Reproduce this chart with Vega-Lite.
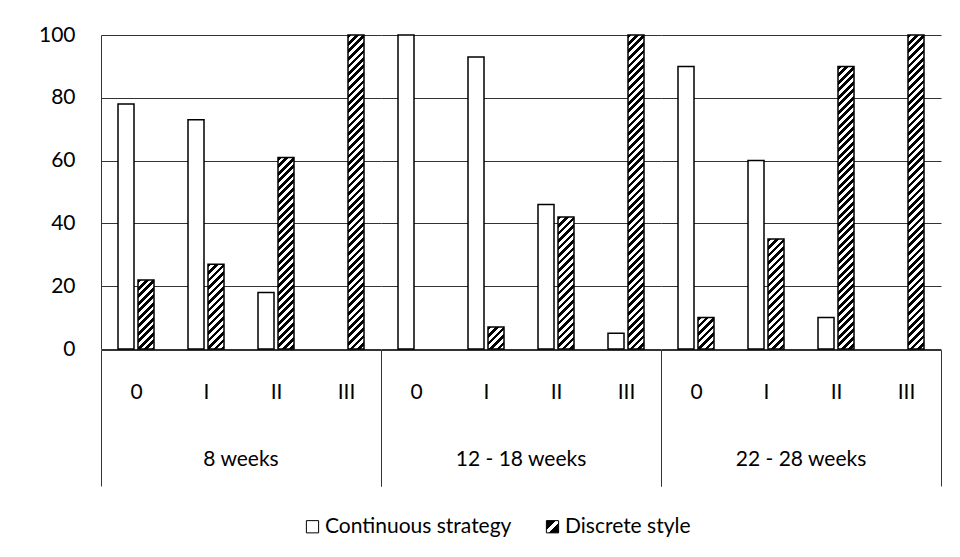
{
  "$schema": "https://vega.github.io/schema/vega-lite/v6.json",
  "background": "white",
  "autosize": {"type": "pad"},
  "padding": {"left": 38, "top": 24, "right": 0, "bottom": 0},
  "params": [
    {"name": "lg", "value": {"gradient": "linear", "x1": 0, "y1": 0, "x2": 1, "y2": 1, "stops": [
      {"offset": 0, "color": "#000"}, {"offset": 0.4, "color": "#000"}, {"offset": 0.4, "color": "#fff"},
      {"offset": 0.6, "color": "#fff"}, {"offset": 0.6, "color": "#000"}, {"offset": 1, "color": "#000"}]}},
    {"name": "hs", "value": [{"offset":0,"color":"#000"},
{"offset":0.01136,"color":"#000"},{"offset":0.01136,"color":"#fff"},
{"offset":0.02273,"color":"#fff"},{"offset":0.02273,"color":"#000"},
{"offset":0.03409,"color":"#000"},{"offset":0.03409,"color":"#fff"},
{"offset":0.04545,"color":"#fff"},{"offset":0.04545,"color":"#000"},
{"offset":0.05682,"color":"#000"},{"offset":0.05682,"color":"#fff"},
{"offset":0.06818,"color":"#fff"},{"offset":0.06818,"color":"#000"},
{"offset":0.07955,"color":"#000"},{"offset":0.07955,"color":"#fff"},
{"offset":0.09091,"color":"#fff"},{"offset":0.09091,"color":"#000"},
{"offset":0.10227,"color":"#000"},{"offset":0.10227,"color":"#fff"},
{"offset":0.11364,"color":"#fff"},{"offset":0.11364,"color":"#000"},
{"offset":0.125,"color":"#000"},{"offset":0.125,"color":"#fff"},
{"offset":0.13636,"color":"#fff"},{"offset":0.13636,"color":"#000"},
{"offset":0.14773,"color":"#000"},{"offset":0.14773,"color":"#fff"},
{"offset":0.15909,"color":"#fff"},{"offset":0.15909,"color":"#000"},
{"offset":0.17045,"color":"#000"},{"offset":0.17045,"color":"#fff"},
{"offset":0.18182,"color":"#fff"},{"offset":0.18182,"color":"#000"},
{"offset":0.19318,"color":"#000"},{"offset":0.19318,"color":"#fff"},
{"offset":0.20455,"color":"#fff"},{"offset":0.20455,"color":"#000"},
{"offset":0.21591,"color":"#000"},{"offset":0.21591,"color":"#fff"},
{"offset":0.22727,"color":"#fff"},{"offset":0.22727,"color":"#000"},
{"offset":0.23864,"color":"#000"},{"offset":0.23864,"color":"#fff"},
{"offset":0.25,"color":"#fff"},{"offset":0.25,"color":"#000"},
{"offset":0.26136,"color":"#000"},{"offset":0.26136,"color":"#fff"},
{"offset":0.27273,"color":"#fff"},{"offset":0.27273,"color":"#000"},
{"offset":0.28409,"color":"#000"},{"offset":0.28409,"color":"#fff"},
{"offset":0.29545,"color":"#fff"},{"offset":0.29545,"color":"#000"},
{"offset":0.30682,"color":"#000"},{"offset":0.30682,"color":"#fff"},
{"offset":0.31818,"color":"#fff"},{"offset":0.31818,"color":"#000"},
{"offset":0.32955,"color":"#000"},{"offset":0.32955,"color":"#fff"},
{"offset":0.34091,"color":"#fff"},{"offset":0.34091,"color":"#000"},
{"offset":0.35227,"color":"#000"},{"offset":0.35227,"color":"#fff"},
{"offset":0.36364,"color":"#fff"},{"offset":0.36364,"color":"#000"},
{"offset":0.375,"color":"#000"},{"offset":0.375,"color":"#fff"},
{"offset":0.38636,"color":"#fff"},{"offset":0.38636,"color":"#000"},
{"offset":0.39773,"color":"#000"},{"offset":0.39773,"color":"#fff"},
{"offset":0.40909,"color":"#fff"},{"offset":0.40909,"color":"#000"},
{"offset":0.42045,"color":"#000"},{"offset":0.42045,"color":"#fff"},
{"offset":0.43182,"color":"#fff"},{"offset":0.43182,"color":"#000"},
{"offset":0.44318,"color":"#000"},{"offset":0.44318,"color":"#fff"},
{"offset":0.45455,"color":"#fff"},{"offset":0.45455,"color":"#000"},
{"offset":0.46591,"color":"#000"},{"offset":0.46591,"color":"#fff"},
{"offset":0.47727,"color":"#fff"},{"offset":0.47727,"color":"#000"},
{"offset":0.48864,"color":"#000"},{"offset":0.48864,"color":"#fff"},
{"offset":0.5,"color":"#fff"},{"offset":0.5,"color":"#000"},
{"offset":0.51136,"color":"#000"},{"offset":0.51136,"color":"#fff"},
{"offset":0.52273,"color":"#fff"},{"offset":0.52273,"color":"#000"},
{"offset":0.53409,"color":"#000"},{"offset":0.53409,"color":"#fff"},
{"offset":0.54545,"color":"#fff"},{"offset":0.54545,"color":"#000"},
{"offset":0.55682,"color":"#000"},{"offset":0.55682,"color":"#fff"},
{"offset":0.56818,"color":"#fff"},{"offset":0.56818,"color":"#000"},
{"offset":0.57955,"color":"#000"},{"offset":0.57955,"color":"#fff"},
{"offset":0.59091,"color":"#fff"},{"offset":0.59091,"color":"#000"},
{"offset":0.60227,"color":"#000"},{"offset":0.60227,"color":"#fff"},
{"offset":0.61364,"color":"#fff"},{"offset":0.61364,"color":"#000"},
{"offset":0.625,"color":"#000"},{"offset":0.625,"color":"#fff"},
{"offset":0.63636,"color":"#fff"},{"offset":0.63636,"color":"#000"},
{"offset":0.64773,"color":"#000"},{"offset":0.64773,"color":"#fff"},
{"offset":0.65909,"color":"#fff"},{"offset":0.65909,"color":"#000"},
{"offset":0.67045,"color":"#000"},{"offset":0.67045,"color":"#fff"},
{"offset":0.68182,"color":"#fff"},{"offset":0.68182,"color":"#000"},
{"offset":0.69318,"color":"#000"},{"offset":0.69318,"color":"#fff"},
{"offset":0.70455,"color":"#fff"},{"offset":0.70455,"color":"#000"},
{"offset":0.71591,"color":"#000"},{"offset":0.71591,"color":"#fff"},
{"offset":0.72727,"color":"#fff"},{"offset":0.72727,"color":"#000"},
{"offset":0.73864,"color":"#000"},{"offset":0.73864,"color":"#fff"},
{"offset":0.75,"color":"#fff"},{"offset":0.75,"color":"#000"},
{"offset":0.76136,"color":"#000"},{"offset":0.76136,"color":"#fff"},
{"offset":0.77273,"color":"#fff"},{"offset":0.77273,"color":"#000"},
{"offset":0.78409,"color":"#000"},{"offset":0.78409,"color":"#fff"},
{"offset":0.79545,"color":"#fff"},{"offset":0.79545,"color":"#000"},
{"offset":0.80682,"color":"#000"},{"offset":0.80682,"color":"#fff"},
{"offset":0.81818,"color":"#fff"},{"offset":0.81818,"color":"#000"},
{"offset":0.82955,"color":"#000"},{"offset":0.82955,"color":"#fff"},
{"offset":0.84091,"color":"#fff"},{"offset":0.84091,"color":"#000"},
{"offset":0.85227,"color":"#000"},{"offset":0.85227,"color":"#fff"},
{"offset":0.86364,"color":"#fff"},{"offset":0.86364,"color":"#000"},
{"offset":0.875,"color":"#000"},{"offset":0.875,"color":"#fff"},
{"offset":0.88636,"color":"#fff"},{"offset":0.88636,"color":"#000"},
{"offset":0.89773,"color":"#000"},{"offset":0.89773,"color":"#fff"},
{"offset":0.90909,"color":"#fff"},{"offset":0.90909,"color":"#000"},
{"offset":0.92045,"color":"#000"},{"offset":0.92045,"color":"#fff"},
{"offset":0.93182,"color":"#fff"},{"offset":0.93182,"color":"#000"},
{"offset":0.94318,"color":"#000"},{"offset":0.94318,"color":"#fff"},
{"offset":0.95455,"color":"#fff"},{"offset":0.95455,"color":"#000"},
{"offset":0.96591,"color":"#000"},{"offset":0.96591,"color":"#fff"},
{"offset":0.97727,"color":"#fff"},{"offset":0.97727,"color":"#000"},
{"offset":0.98864,"color":"#000"},{"offset":0.98864,"color":"#fff"},
{"offset":1,"color":"#fff"}]}
  ],
  "data": {"values": [
    {"period": "8 weeks", "stage": "0", "series": "Continuous strategy", "value": 78},
    {"period": "8 weeks", "stage": "0", "series": "Discrete style", "value": 22},
    {"period": "8 weeks", "stage": "I", "series": "Continuous strategy", "value": 73},
    {"period": "8 weeks", "stage": "I", "series": "Discrete style", "value": 27},
    {"period": "8 weeks", "stage": "II", "series": "Continuous strategy", "value": 18},
    {"period": "8 weeks", "stage": "II", "series": "Discrete style", "value": 61},
    {"period": "8 weeks", "stage": "III", "series": "Continuous strategy", "value": 0},
    {"period": "8 weeks", "stage": "III", "series": "Discrete style", "value": 100},
    {"period": "12 - 18 weeks", "stage": "0", "series": "Continuous strategy", "value": 100},
    {"period": "12 - 18 weeks", "stage": "0", "series": "Discrete style", "value": 0},
    {"period": "12 - 18 weeks", "stage": "I", "series": "Continuous strategy", "value": 93},
    {"period": "12 - 18 weeks", "stage": "I", "series": "Discrete style", "value": 7},
    {"period": "12 - 18 weeks", "stage": "II", "series": "Continuous strategy", "value": 46},
    {"period": "12 - 18 weeks", "stage": "II", "series": "Discrete style", "value": 42},
    {"period": "12 - 18 weeks", "stage": "III", "series": "Continuous strategy", "value": 5},
    {"period": "12 - 18 weeks", "stage": "III", "series": "Discrete style", "value": 100},
    {"period": "22 - 28 weeks", "stage": "0", "series": "Continuous strategy", "value": 90},
    {"period": "22 - 28 weeks", "stage": "0", "series": "Discrete style", "value": 10},
    {"period": "22 - 28 weeks", "stage": "I", "series": "Continuous strategy", "value": 60},
    {"period": "22 - 28 weeks", "stage": "I", "series": "Discrete style", "value": 35},
    {"period": "22 - 28 weeks", "stage": "II", "series": "Continuous strategy", "value": 10},
    {"period": "22 - 28 weeks", "stage": "II", "series": "Discrete style", "value": 90},
    {"period": "22 - 28 weeks", "stage": "III", "series": "Continuous strategy", "value": 0},
    {"period": "22 - 28 weeks", "stage": "III", "series": "Discrete style", "value": 100}
  ]},
  "facet": {"column": {"field": "period", "type": "nominal",
    "sort": ["8 weeks", "12 - 18 weeks", "22 - 28 weeks"],
    "header": {"title": null, "labelOrient": "bottom", "labelFont": "Lato", "labelFontSize": 21, "labelColor": "#000", "labelBaseline": "middle", "labelPadding": -27}}},
  "spacing": 0,
  "spec": {
    "width": 280,
    "height": 314,
    "layer": [
      {
        "transform": [{"filter": "datum.series === 'Continuous strategy' && datum.value > 0"}],
        "mark": {"type": "bar", "stroke": "#000", "strokeWidth": 1.5},
        "encoding": {
          "x": {"field": "stage", "type": "nominal",
            "scale": {"domain": ["0", "I", "II", "III"], "paddingInner": 0, "paddingOuter": 0},
            "axis": {"orient": "bottom", "title": null, "domain": true, "domainColor": "#333", "domainWidth": 1,
              "tickBand": "extent", "tickSize": 136, "tickColor": "#333", "tickWidth": 1,
              "tickOpacity": {"condition": {"test": "datum.value === 'III' || datum.extra", "value": 1}, "value": 0},
              "labelPadding": -94, "labelBaseline": "middle", "labelAngle": 0,
              "labelFont": "Lato", "labelFontSize": 21, "labelColor": "#000", "grid": false}},
          "xOffset": {"field": "series", "type": "nominal",
            "scale": {"domain": ["Continuous strategy", "Discrete style"], "paddingInner": 0.2, "paddingOuter": 0.85}},
          "y": {"field": "value", "type": "quantitative",
            "scale": {"domain": [0, 100], "nice": false},
            "axis": {"values": [0, 20, 40, 60, 80, 100], "title": null, "grid": true, "gridColor": "#333", "gridWidth": 1,
              "domain": true, "domainColor": "#333", "ticks": false, "tickSize": 0, "labelPadding": 26,
              "labelFont": "Lato", "labelFontSize": 21, "labelColor": "#000"}},
          "fill": {"field": "series", "type": "nominal",
            "scale": {"domain": ["Continuous strategy", "Discrete style"], "range": ["#ffffff", {"expr": "lg"}]},
            "legend": {"orient": "none", "legendX": 201, "legendY": 481, "direction": "horizontal", "title": null,
              "symbolType": "square", "symbolSize": 150,
              "symbolStrokeColor": "#000", "symbolStrokeWidth": 1, "labelFont": "Lato", "labelFontSize": 21, "labelColor": "#000",
              "labelLimit": 400, "labelOffset": 2, "columnPadding": 30}}
        }
      },
      {
        "transform": [{"filter": "datum.series === 'Discrete style' && datum.value > 0"}],
        "mark": {"type": "bar", "stroke": "#000", "strokeWidth": 1.5},
        "encoding": {
          "x": {"field": "stage", "type": "nominal",
            "scale": {"domain": ["0", "I", "II", "III"], "paddingInner": 0, "paddingOuter": 0}},
          "xOffset": {"field": "series", "type": "nominal",
            "scale": {"domain": ["Continuous strategy", "Discrete style"], "paddingInner": 0.2, "paddingOuter": 0.85}},
          "y": {"field": "value", "type": "quantitative", "scale": {"domain": [0, 100], "nice": false}},
          "fill": {"value": {"expr": "{gradient: 'linear', x1: 0, y1: 0, x2: 5280 / (256 + pow(datum.value * 3.14, 2)), y2: 330 * datum.value * 3.14 / (256 + pow(datum.value * 3.14, 2)), stops: hs}"}}
        }
      }
    ]
  },
  "config": {"view": {"stroke": null}}
}
